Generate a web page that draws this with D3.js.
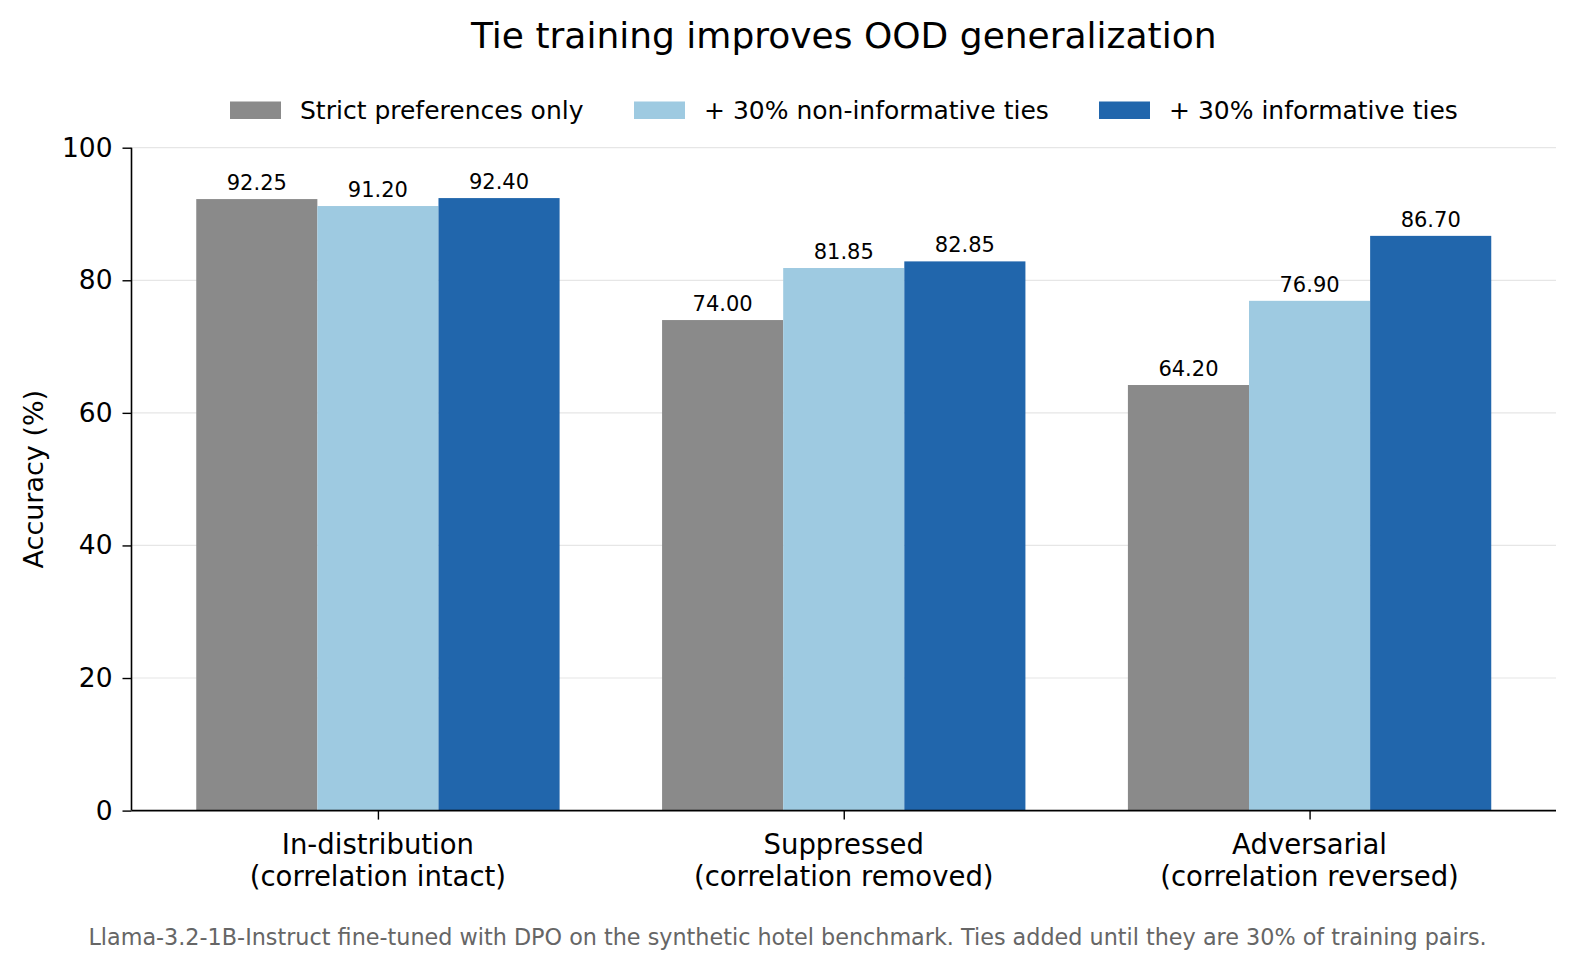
<!DOCTYPE html>
<html>
<head>
<meta charset="utf-8">
<script src="https://cdn.jsdelivr.net/npm/d3@7"></script>
<style>
  html, body { margin: 0; padding: 0; background: #fff; }
  svg { display: block; font-family: "DejaVu Sans", sans-serif; }
</style>
</head>
<body>
<svg id="chart" width="1575" height="969"></svg>
<script>
const categories = ["In-distribution\n(correlation intact)", "Suppressed\n(correlation removed)", "Adversarial\n(correlation reversed)"];
const seriesNames = ["Strict preferences only", "+ 30% non-informative ties", "+ 30% informative ties"];
const strictVals = [92.25, 74.00, 64.20];
const nonInfoVals = [91.20, 81.85, 76.90];
const infoVals = [92.40, 82.85, 86.70];
const yTicks = [0, 20, 40, 60, 80, 100];
const colors = ["#8a8a8a", "#9ecae1", "#2166ac"];
const title = "Tie training improves OOD generalization";
const yLabel = "Accuracy (%)";
const footnote = "Llama-3.2-1B-Instruct fine-tuned with DPO on the synthetic hotel benchmark. Ties added until they are 30% of training pairs.";

(function () {
const series = [strictVals, nonInfoVals, infoVals];
const svg = d3.select("#chart");
const pLeft = 131.5, pRight = 1556, pTop = 147.7, pBottom = 810.6;
const barW = 0.26;

const x = d3.scaleLinear().domain([-0.529, 2.529]).range([pLeft, pRight]);
const y = d3.scaleLinear().domain([0, 100]).range([pBottom, pTop]);

// gridlines
svg.append("g").selectAll("line").data(yTicks.filter(d => d > 0)).join("line")
  .attr("x1", pLeft).attr("x2", pRight)
  .attr("y1", d => y(d)).attr("y2", d => y(d))
  .attr("stroke", "#e6e6e6").attr("stroke-width", 1.2);

// bars
series.forEach((vals, si) => {
  const g = svg.append("g");
  g.selectAll("rect").data(vals).join("rect")
    .attr("x", (d, i) => x(i + (si - 1) * barW - barW / 2))
    .attr("width", (d, i) => x(i + (si - 1) * barW + barW / 2) - x(i + (si - 1) * barW - barW / 2))
    .attr("y", d => y(d))
    .attr("height", d => y(0) - y(d))
    .attr("fill", colors[si]);
  g.selectAll("text").data(vals).join("text")
    .attr("x", (d, i) => x(i + (si - 1) * barW))
    .attr("y", d => y(d) - 9)
    .attr("text-anchor", "middle")
    .attr("font-size", 21)
    .attr("fill", "#000")
    .text(d => d.toFixed(2));
});

// y axis
const yAxis = svg.append("g").attr("transform", `translate(${pLeft},0)`)
  .call(d3.axisLeft(y).tickValues(yTicks).tickSize(9).tickPadding(10));
yAxis.select(".domain").attr("stroke", "#000").attr("stroke-width", 1.6)
  .attr("d", `M0,${pBottom}V${pTop}`);
yAxis.selectAll(".tick line").attr("stroke", "#000").attr("stroke-width", 1.4);
yAxis.selectAll(".tick text").attr("font-size", 26.5).attr("fill", "#000")
  .attr("font-family", "DejaVu Sans");

// x axis
const xAxis = svg.append("g").attr("transform", `translate(0,${pBottom})`)
  .call(d3.axisBottom(x).tickValues([0, 1, 2]).tickSize(9).tickFormat(""));
xAxis.select(".domain").attr("stroke", "#000").attr("stroke-width", 1.6)
  .attr("d", `M${pLeft},0H${pRight}`);
xAxis.selectAll(".tick line").attr("stroke", "#000").attr("stroke-width", 1.4);

// category labels
categories.forEach((c, i) => {
  const lines = c.split("\n");
  const t = svg.append("text").attr("text-anchor", "middle")
    .attr("font-size", 27.5).attr("fill", "#000");
  lines.forEach((ln, j) => {
    t.append("tspan").attr("x", x(i)).attr("y", pBottom + 43 + j * 32.5).text(ln);
  });
});

// y label
svg.append("text")
  .attr("transform", `translate(43,${(pTop + pBottom) / 2}) rotate(-90)`)
  .attr("text-anchor", "middle").attr("font-size", 27).attr("fill", "#000")
  .text(yLabel);

// title
svg.append("text").attr("x", (pLeft + pRight) / 2).attr("y", 47.5)
  .attr("text-anchor", "middle").attr("font-size", 36).attr("fill", "#000")
  .text(title);

// legend
const legendItems = [
  { sx: 230, tx: 300 },
  { sx: 634, tx: 704 },
  { sx: 1099, tx: 1169 }
];
seriesNames.forEach((n, i) => {
  svg.append("rect").attr("x", legendItems[i].sx).attr("y", 101.5)
    .attr("width", 51).attr("height", 17.5).attr("fill", colors[i]);
  svg.append("text").attr("x", legendItems[i].tx).attr("y", 119)
    .attr("font-size", 25).attr("fill", "#000").text(n);
});

// footnote
svg.append("text").attr("x", 787.5).attr("y", 945)
  .attr("text-anchor", "middle").attr("font-size", 22.3).attr("fill", "#666")
  .text(footnote);
})();
</script>
</body>
</html>
